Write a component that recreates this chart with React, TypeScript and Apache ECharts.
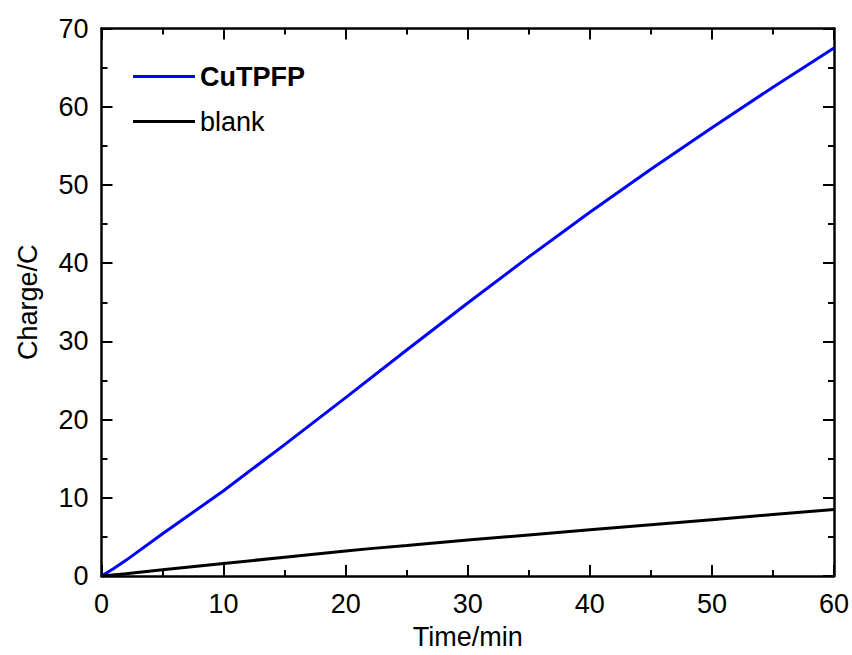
import React, { useEffect, useRef } from "react";
import * as echarts from "echarts";

const time = [0, 1, 2, 5, 10, 15, 20, 25, 30, 35, 40, 45, 50, 55, 60];
const cutpfp = [0, 0.95, 2.0, 5.4, 10.9, 16.8, 22.8, 28.9, 34.9, 40.8, 46.5, 52.0, 57.3, 62.5, 67.5];
const blankTime = [0, 2, 5, 10, 15, 20, 22, 25, 30, 35, 40, 45, 50, 55, 60];
const blank = [0, 0.3, 0.8, 1.6, 2.4, 3.2, 3.5, 3.9, 4.6, 5.25, 5.9, 6.55, 7.2, 7.85, 8.5];

const FONT = "'Liberation Sans', Arial, Helvetica, sans-serif";

export default function App() {
  const ref = useRef<HTMLDivElement>(null);
  useEffect(() => {
    if (!ref.current) return;
    const chart = echarts.init(ref.current, null, { renderer: "svg" });
    const axisLine = { show: true, onZero: false, lineStyle: { color: "#000", width: 2.5 } };
    const tick = { show: true, inside: true, length: 11, lineStyle: { color: "#000", width: 2 } };
    const minor = { show: true, splitNumber: 2, length: 6, lineStyle: { color: "#000", width: 2 } };
    const label = { color: "#000", fontSize: 27, fontFamily: FONT };
    chart.setOption({
      animation: false,
      backgroundColor: "#fff",
      textStyle: { fontFamily: FONT },
      grid: { left: 101.5, right: 18, top: 28.5, bottom: 77, containLabel: false },
      legend: {
        orient: "vertical",
        left: 128,
        top: 58,
        itemWidth: 62,
        itemHeight: 3,
        itemGap: 18,
        icon: "rect",
        textStyle: { color: "#000", fontSize: 27, fontFamily: FONT },
        data: [
          { name: "CuTPFP", textStyle: { fontWeight: "bold" } },
          { name: "blank" },
        ],
      },
      xAxis: [
        {
          type: "value",
          min: 0,
          max: 60,
          interval: 10,
          position: "bottom",
          axisLine,
          axisTick: tick,
          minorTick: minor,
          splitLine: { show: false },
          axisLabel: { ...label, margin: 14 },
          name: "Time/min",
          nameLocation: "middle",
          nameGap: 47,
          nameTextStyle: { ...label },
        },
        {
          type: "value",
          min: 0,
          max: 60,
          interval: 10,
          position: "top",
          axisLine,
          axisTick: tick,
          minorTick: minor,
          splitLine: { show: false },
          axisLabel: { show: false },
        },
      ],
      yAxis: [
        {
          type: "value",
          min: 0,
          max: 70,
          interval: 10,
          position: "left",
          axisLine,
          axisTick: tick,
          minorTick: minor,
          splitLine: { show: false },
          axisLabel: { ...label, margin: 13 },
          name: "Charge/C",
          nameLocation: "middle",
          nameGap: 60,
          nameTextStyle: { ...label },
        },
        {
          type: "value",
          min: 0,
          max: 70,
          interval: 10,
          position: "right",
          axisLine,
          axisTick: tick,
          minorTick: minor,
          splitLine: { show: false },
          axisLabel: { show: false },
        },
      ],
      series: [
        {
          name: "CuTPFP",
          type: "line",
          data: time.map((t, i) => [t, cutpfp[i]]),
          showSymbol: false,
          color: "#0000ff",
          lineStyle: { color: "#0000ff", width: 3 },
        },
        {
          name: "blank",
          type: "line",
          data: blankTime.map((t, i) => [t, blank[i]]),
          showSymbol: false,
          color: "#000",
          lineStyle: { color: "#000", width: 3 },
        },
      ],
    });
    return () => chart.dispose();
  }, []);
  return (
    <div
      ref={ref}
      style={{ position: "fixed", left: 0, top: 0, width: 852, height: 655, background: "#fff" }}
    />
  );
}
